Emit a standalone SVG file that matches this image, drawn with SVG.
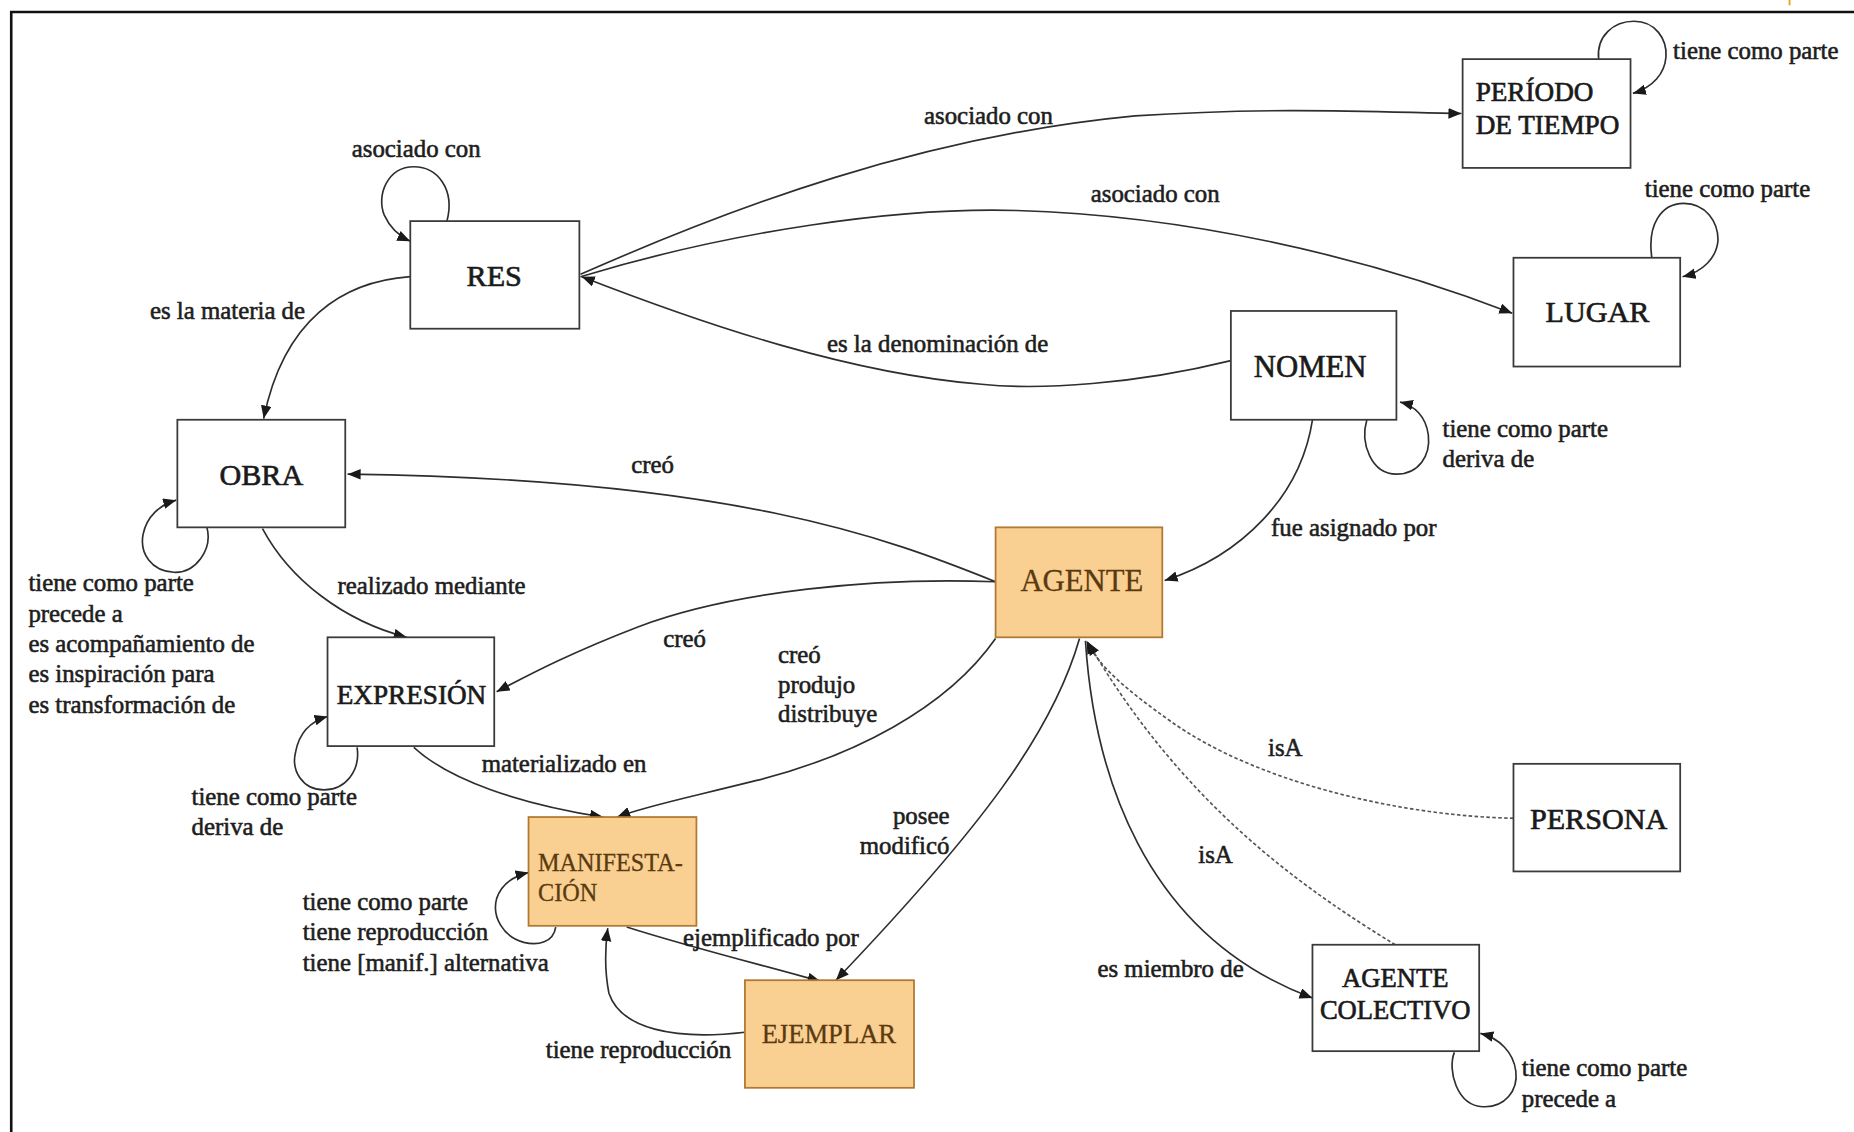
<svg xmlns="http://www.w3.org/2000/svg" width="1854" height="1132" viewBox="0 0 1854 1132">
  <style>
    .box { fill: #ffffff; stroke: #3a3a3a; stroke-width: 1.5; }
    .box.hi { fill: #f9cf92; stroke: #b07a32; }
    .nt { font-family: "Liberation Serif", "Times New Roman", serif; fill: #1a1a1a; stroke: #1a1a1a; stroke-width: 0.55; }
    .nt.hi { fill: #5a3a10; stroke: #5a3a10; stroke-width: 0.25; }
    .lbl { font-family: "Liberation Serif", "Times New Roman", serif; font-size: 21px; fill: #1e1e1e; stroke: #1e1e1e; stroke-width: 0.5; }
    .e { fill: none; stroke: #2e2e2e; stroke-width: 1.4; }
    .d { fill: none; stroke: #555555; stroke-width: 1.4; stroke-dasharray: 3 2; }
  </style>
  <defs>
    <marker id="arr" markerUnits="userSpaceOnUse" markerWidth="12" markerHeight="10" refX="11" refY="4.5" orient="auto">
      <path d="M0,0 L11,4.5 L0,9 Z" fill="#1a1a1a"/>
    </marker>
  </defs>

  <rect width="1854" height="1132" fill="#ffffff"/>

  <g transform="scale(1.1824)">
    <!-- outer frame: top and left rules only -->
    <path d="M9.5 1000 L9.5 10.2 L1600 10.2" fill="none" stroke="#111111" stroke-width="2.2"/>
    <path d="M1513.5 0 L1513.5 4.5" stroke="#f0a020" stroke-width="1.6"/>

    <g id="connectors">
      <!-- RES self loop -->
      <path class="e" d="M378 187 C385 160,370 141,350 141 C328 141,318 165,325 182 C330 193,338 200,347 204" marker-end="url(#arr)"/>
      <!-- RES -> OBRA -->
      <path class="e" d="M347 234 C290 238,240 270,223 354" marker-end="url(#arr)"/>
      <!-- RES -> PERIODO -->
      <path class="e" d="M491 232 C620 175,780 115,960 98 C1080 90,1170 95,1236 96" marker-end="url(#arr)"/>
      <!-- RES -> LUGAR -->
      <path class="e" d="M491 234 C620 195,760 175,860 178 C1000 182,1150 215,1279 265" marker-end="url(#arr)"/>
      <!-- NOMEN -> RES -->
      <path class="e" d="M1041 305 C960 325,880 330,830 325 C720 316,600 276,492 234" marker-end="url(#arr)"/>
      <!-- PERIODO self loop -->
      <path class="e" d="M1352 50 C1350 30,1365 18,1382 18 C1400 18,1410 33,1409 48 C1408 62,1398 74,1381 79" marker-end="url(#arr)"/>
      <!-- LUGAR self loop -->
      <path class="e" d="M1397 218 C1393 190,1405 172,1424 172 C1443 172,1453 188,1453 203 C1452 218,1440 230,1423 234" marker-end="url(#arr)"/>
      <!-- NOMEN self loop -->
      <path class="e" d="M1156 355 C1150 375,1160 401,1181 401 C1200 401,1210 385,1208 368 C1206 352,1196 343,1184 340" marker-end="url(#arr)"/>
      <!-- NOMEN -> AGENTE -->
      <path class="e" d="M1110 355 C1100 420,1050 470,985 491" marker-end="url(#arr)"/>
      <!-- AGENTE -> OBRA -->
      <path class="e" d="M842 492 C750 455,620 405,294 401" marker-end="url(#arr)"/>
      <!-- AGENTE -> EXPRESION -->
      <path class="e" d="M842 492 C740 488,620 500,540 530 C480 553,445 572,420 585" marker-end="url(#arr)"/>
      <!-- AGENTE -> MANIFESTACION -->
      <path class="e" d="M842 540 C800 600,720 640,640 660 C580 675,545 682,522 691" marker-end="url(#arr)"/>
      <!-- EXPRESION -> MANIFESTACION -->
      <path class="e" d="M350 632 C380 660,440 680,510 691" marker-end="url(#arr)"/>
      <!-- OBRA self loop -->
      <path class="e" d="M175 446 C180 465,165 485,147 484 C128 483,118 468,121 452 C124 437,135 427,149 423" marker-end="url(#arr)"/>
      <!-- OBRA -> EXPRESION -->
      <path class="e" d="M222 447 C245 490,290 525,344 539" marker-end="url(#arr)"/>
      <!-- EXPRESION self loop -->
      <path class="e" d="M302 632 C305 652,292 668,274 668 C256 668,246 652,250 636 C253 620,263 610,277 606" marker-end="url(#arr)"/>
      <!-- MANIFESTACION self loop -->
      <path class="e" d="M470 784 C468 797,455 800,443 797 C425 792,416 775,420 760 C424 748,434 741,447 738" marker-end="url(#arr)"/>
      <!-- MANIFESTACION -> EJEMPLAR -->
      <path class="e" d="M530 784 C580 800,640 815,694 830" marker-end="url(#arr)"/>
      <!-- EJEMPLAR -> MANIFESTACION -->
      <path class="e" d="M630 873 C570 880,525 870,515 840 C511 820,512 800,514 785" marker-end="url(#arr)"/>
      <!-- AGENTE -> EJEMPLAR -->
      <path class="e" d="M913 540 C890 620,830 700,707 829" marker-end="url(#arr)"/>
      <!-- AGENTE -> AGENTE COLECTIVO -->
      <path class="e" d="M918 542 C925 650,965 790,1110 844" marker-end="url(#arr)"/>
      <!-- AGENTE COLECTIVO self loop -->
      <path class="e" d="M1230 890 C1224 905,1232 935,1254 936 C1273 937,1284 922,1282 906 C1280 890,1268 878,1252 874" marker-end="url(#arr)"/>
      <!-- PERSONA isA AGENTE -->
      <path class="d" d="M1280 692 C1180 690,1060 660,990 610 C955 585,930 565,919 542" marker-end="url(#arr)"/>
      <!-- AGENTE COLECTIVO isA AGENTE -->
      <path class="d" d="M1180 799 C1100 750,1000 680,920 543" marker-end="url(#arr)"/>
    </g>

    <g id="edge-labels">
      <text class="lbl" x="352" y="133" text-anchor="middle">asociado con</text>
      <text class="lbl" x="258" y="270" text-anchor="end">es la materia de</text>
      <text class="lbl" x="836" y="105" text-anchor="middle">asociado con</text>
      <text class="lbl" x="977" y="171" text-anchor="middle">asociado con</text>
      <text class="lbl" x="793" y="298" text-anchor="middle">es la denominación de</text>
      <text class="lbl" x="1415" y="50">tiene como parte</text>
      <text class="lbl" x="1461" y="167" text-anchor="middle">tiene como parte</text>
      <text class="lbl" x="1220" y="370">tiene como parte</text>
      <text class="lbl" x="1220" y="395">deriva de</text>
      <text class="lbl" x="1075" y="453">fue asignado por</text>
      <text class="lbl" x="552" y="400" text-anchor="middle">creó</text>
      <text class="lbl" x="579" y="547" text-anchor="middle">creó</text>
      <text class="lbl" x="658" y="561">creó</text>
      <text class="lbl" x="658" y="586">produjo</text>
      <text class="lbl" x="658" y="611">distribuye</text>
      <text class="lbl" x="365" y="502" text-anchor="middle">realizado mediante</text>
      <text class="lbl" x="24" y="500">tiene como parte</text>
      <text class="lbl" x="24" y="526">precede a</text>
      <text class="lbl" x="24" y="551">es acompañamiento de</text>
      <text class="lbl" x="24" y="577">es inspiración para</text>
      <text class="lbl" x="24" y="603">es transformación de</text>
      <text class="lbl" x="477" y="653" text-anchor="middle">materializado en</text>
      <text class="lbl" x="162" y="681">tiene como parte</text>
      <text class="lbl" x="162" y="706">deriva de</text>
      <text class="lbl" x="256" y="770">tiene como parte</text>
      <text class="lbl" x="256" y="795">tiene reproducción</text>
      <text class="lbl" x="256" y="821">tiene [manif.] alternativa</text>
      <text class="lbl" x="652" y="800" text-anchor="middle">ejemplificado por</text>
      <text class="lbl" x="540" y="895" text-anchor="middle">tiene reproducción</text>
      <text class="lbl" x="803" y="697" text-anchor="end">posee</text>
      <text class="lbl" x="803" y="722" text-anchor="end">modificó</text>
      <text class="lbl" x="1087" y="639" text-anchor="middle">isA</text>
      <text class="lbl" x="1028" y="730" text-anchor="middle">isA</text>
      <text class="lbl" x="990" y="826" text-anchor="middle">es miembro de</text>
      <text class="lbl" x="1287" y="910">tiene como parte</text>
      <text class="lbl" x="1287" y="936">precede a</text>
    </g>

    <g id="node-res">
      <rect class="box" x="347" y="187" width="143" height="91"/>
      <text class="nt" x="418" y="242" font-size="25.5" text-anchor="middle">RES</text>
    </g>
    <g id="node-periodo">
      <rect class="box" x="1237" y="50" width="142" height="92"/>
      <text class="nt" x="1248" y="85" font-size="23">PERÍODO</text>
      <text class="nt" x="1248" y="113" font-size="23">DE TIEMPO</text>
    </g>
    <g id="node-lugar">
      <rect class="box" x="1280" y="218" width="141" height="92"/>
      <text class="nt" x="1351" y="272" font-size="25.5" text-anchor="middle">LUGAR</text>
    </g>
    <g id="node-nomen">
      <rect class="box" x="1041" y="263" width="140" height="92"/>
      <text class="nt" x="1108" y="319" font-size="26" text-anchor="middle">NOMEN</text>
    </g>
    <g id="node-obra">
      <rect class="box" x="150" y="355" width="142" height="91"/>
      <text class="nt" x="221" y="410" font-size="25.5" text-anchor="middle">OBRA</text>
    </g>
    <g id="node-agente">
      <rect class="box hi" x="842" y="446" width="141" height="93"/>
      <text class="nt hi" x="915" y="500" font-size="26" text-anchor="middle">AGENTE</text>
    </g>
    <g id="node-expresion">
      <rect class="box" x="277" y="539" width="141" height="92"/>
      <text class="nt" x="348" y="595" font-size="23" text-anchor="middle">EXPRESIÓN</text>
    </g>
    <g id="node-manifestacion">
      <rect class="box hi" x="447" y="691" width="142" height="92"/>
      <text class="nt hi" x="455" y="737" font-size="20.5">MANIFESTA-</text>
      <text class="nt hi" x="455" y="762" font-size="20.5">CIÓN</text>
    </g>
    <g id="node-ejemplar">
      <rect class="box hi" x="630" y="829" width="143" height="91"/>
      <text class="nt hi" x="701" y="882" font-size="22.5" text-anchor="middle">EJEMPLAR</text>
    </g>
    <g id="node-persona">
      <rect class="box" x="1280" y="646" width="141" height="91"/>
      <text class="nt" x="1352" y="701" font-size="25.5" text-anchor="middle">PERSONA</text>
    </g>
    <g id="node-agente-colectivo">
      <rect class="box" x="1110" y="799" width="141" height="90"/>
      <text class="nt" x="1180" y="835" font-size="22.5" text-anchor="middle">AGENTE</text>
      <text class="nt" x="1180" y="862" font-size="22.5" text-anchor="middle">COLECTIVO</text>
    </g>
  </g>
</svg>
